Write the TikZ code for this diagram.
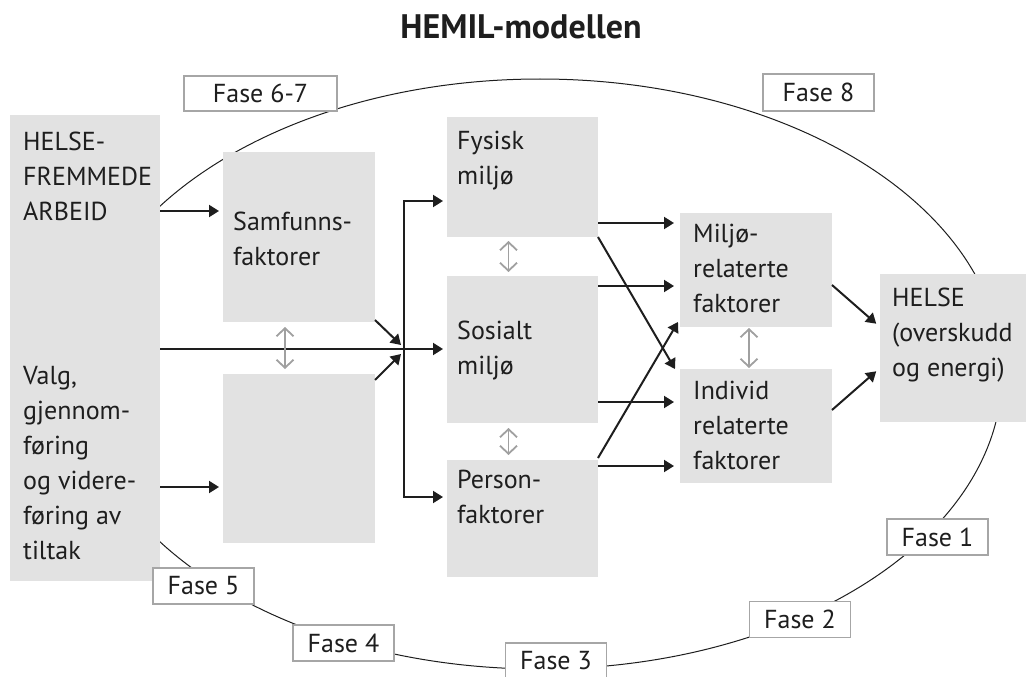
\documentclass[tikz,border=0pt]{standalone}
\usepackage{fontspec}
\setmainfont{PT Sans}
\usetikzlibrary{arrows.meta}

\definecolor{boxgra}{HTML}{E2E2E2}
\definecolor{rammegra}{HTML}{A6A6A6}
\definecolor{pilgra}{HTML}{A0A0A0}
\definecolor{tekstsort}{HTML}{1E1E1E}

\tikzset{
    felt/.style 2 args={fill=boxgra, draw=none, anchor=north west, inner sep=0pt, outer sep=0pt, minimum width=#1, minimum height=#2},
    tekst/.style={anchor=north west, align=left, inner sep=0pt, text=tekstsort, font=\fontsize{26}{35}\selectfont},
    fase/.style={draw=rammegra, line width=1.5pt, fill=white, inner sep=0pt, minimum width=101pt, minimum height=36pt, text=tekstsort, font=\fontsize{26}{35}\selectfont},
    >={Triangle[length=10pt,width=12pt]},
    pil/.style={->, line width=2pt, draw=tekstsort},
    gradobbel/.style={{Straight Barb[length=8pt,width=17pt]}-{Straight Barb[length=8pt,width=17pt]}, line width=1.8pt, draw=pilgra}
}

\begin{document}
\begin{tikzpicture}[x=1pt, y=-1pt]
        \useasboundingbox (0,0) rectangle (1026,677);
        \node[font=\bfseries\fontsize{34}{40}\selectfont, text=tekstsort, anchor=base] (tittel) at (521,39) {HEMIL-modellen};
        \draw[line width=1pt, draw=tekstsort] (540,374) ellipse [x radius=462pt, y radius=295pt];

        \node[felt={150pt}{466pt}] (venstre) at (10,115) {};
        \node[felt={152pt}{170pt}] (samf) at (223,152) {};
        \node[felt={152pt}{169pt}] (tom) at (223,374) {};
        \node[felt={151pt}{120pt}] (fysisk) at (447,117) {};
        \node[felt={151pt}{147pt}] (sosialt) at (447,276) {};
        \node[felt={151pt}{117pt}] (person) at (447,460) {};
        \node[felt={152pt}{114pt}] (miljo) at (680,213) {};
        \node[felt={152pt}{114pt}] (individ) at (680,369) {};
        \node[felt={146pt}{148pt}] (helse) at (880,274) {};

        \node[tekst] (venstre-a) at (23,132) {HELSE-\\FREMMEDE\\ARBEID};
        \node[tekst] (venstre-b) at (23,366) {Valg,\\gjennom-\\føring\\og videre-\\føring av\\tiltak};
        \node[tekst] (samf-t) at (233,212) {Samfunns-\\faktorer};
        \node[tekst] (fysisk-t) at (457,131) {Fysisk\\miljø};
        \node[tekst] (sosialt-t) at (457,321) {Sosialt\\miljø};
        \node[tekst] (person-t) at (457,470) {Person-\\faktorer};
        \node[tekst] (miljo-t) at (693,224) {Miljø-\\relaterte\\faktorer};
        \node[tekst] (individ-t) at (693,381) {Individ\\relaterte\\faktorer};
        \node[tekst] (helse-t) at (892,288) {HELSE\\(overskudd\\og energi)};

        \coordinate (buss-o) at (404,201);
        \coordinate (buss-n) at (404,497);
        \coordinate (inn-o) at (401,345);
        \coordinate (inn-n) at (401,354);

        \draw[pil, shorten >=4pt] (venstre.east |- 0,211) -- (samf.west |- 0,211);
        \draw[pil, shorten >=4pt] (venstre.east |- 0,349) -- (sosialt.west |- 0,349);
        \draw[pil, shorten >=4pt] (venstre.east |- 0,487) -- (tom.west |- 0,487);
        \draw[pil] ([yshift=2pt]samf.south east) -- (inn-o);
        \draw[pil] ([yshift=-6pt]tom.north east) -- (inn-n);
        \draw[pil, <->, shorten <=4pt, shorten >=4pt] (fysisk.west |- buss-o) -- (buss-o) -- (buss-n) -- (person.west |- buss-n);

        \draw[pil, shorten >=6pt] (fysisk.east |- 0,223) -- (miljo.west |- 0,223);
        \draw[pil, shorten >=6pt] (sosialt.east |- 0,286) -- (miljo.west |- 0,286);
        \draw[pil, shorten >=6pt] (sosialt.east |- 0,402) -- (individ.west |- 0,402);
        \draw[pil, shorten >=6pt] (person.east |- 0,466) -- (individ.west |- 0,466);
        \draw[pil] (fysisk.south east) -- ([xshift=-5pt]individ.north west);
        \draw[pil] ([yshift=2pt]person.north east) -- ([shift={(-2pt,5pt)}]miljo.south west);
        \draw[pil, shorten >=5pt] (miljo.east |- 0,285) -- (helse.west |- 0,327);
        \draw[pil, shorten >=5pt] (individ.east |- 0,410) -- (helse.west |- 0,368);

        \draw[gradobbel, shorten <=5pt, shorten >=5pt] ([xshift=-14pt]samf.south) -- ([xshift=-14pt]tom.north);
        \draw[gradobbel, shorten <=4pt, shorten >=4pt] ([xshift=-14pt]fysisk.south) -- ([xshift=-14pt]sosialt.north);
        \draw[gradobbel, shorten <=5pt, shorten >=5pt] ([xshift=-14pt]sosialt.south) -- ([xshift=-14pt]person.north);
        \draw[gradobbel, shorten <=1pt, shorten >=1pt] ([xshift=-7pt]miljo.south) -- ([xshift=-7pt]individ.north);

        \node[fase, minimum width=153pt, minimum height=35pt] (fase67) at (260.5,93.5) {Fase 6-7};
        \node[fase, minimum width=111pt, minimum height=37pt] (fase8) at (818.5,92.5) {Fase 8};
        \node[fase] (fase1) at (937.5,537) {Fase 1};
        \node[fase] (fase2) at (800,619.5) {Fase 2};
        \node[fase] (fase3) at (556,661) {Fase 3};
        \node[fase] (fase4) at (343.5,643) {Fase 4};
        \node[fase] (fase5) at (203.5,586) {Fase 5};
    \end{tikzpicture}
\end{document}
